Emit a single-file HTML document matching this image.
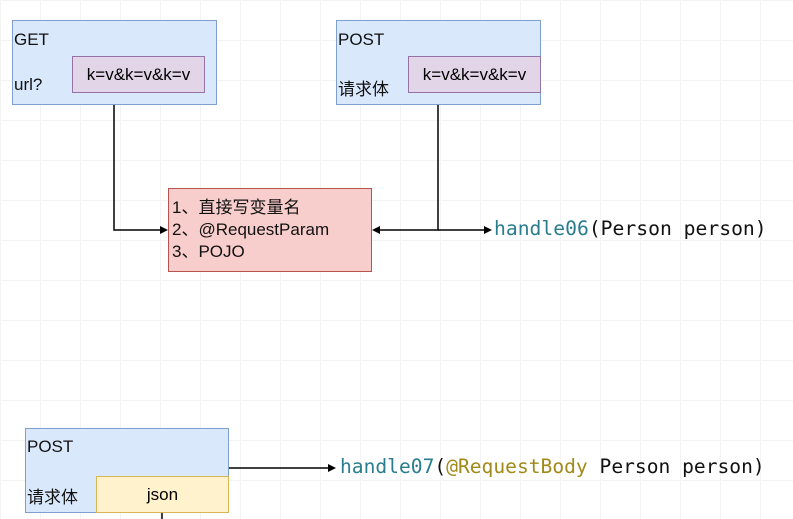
<!DOCTYPE html>
<html><head><meta charset="utf-8"><style>
body{margin:0;width:793px;height:519px;overflow:hidden;background:#fff;
background-image:linear-gradient(#f3f3f3 1px,transparent 1px),linear-gradient(90deg,#f3f3f3 1px,transparent 1px);background-size:40px 40px;
font-family:"Liberation Sans","Noto Sans CJK SC",sans-serif;position:relative}
.b{position:absolute;box-sizing:border-box;border:1px solid #7f9fd0;background:#dae8fc}
.i{position:absolute;box-sizing:border-box;border:1px solid #9673a6;background:#e1d5e7;font-size:17px;display:flex;align-items:center;justify-content:center}
.t{position:absolute;font-size:17px;color:#111}
.m{position:absolute;font-family:"DejaVu Sans Mono","Liberation Mono",monospace;color:#111;white-space:nowrap}
</style></head><body>
<div class="b" style="left:12px;top:20px;width:205px;height:85px"></div>
<div class="t" style="left:14px;top:30px">GET</div>
<div class="t" style="left:14px;top:75px">url?</div>
<div class="i" style="left:72px;top:56px;width:133px;height:37px">k=v&amp;k=v&amp;k=v</div>
<div class="b" style="left:336px;top:20px;width:205px;height:85px"></div>
<div class="t" style="left:338px;top:30px">POST</div>
<div class="t" style="left:338px;top:75px">请求体</div>
<div class="i" style="left:408px;top:56px;width:133px;height:37px">k=v&amp;k=v&amp;k=v</div>
<div style="position:absolute;left:168px;top:188px;width:204px;height:84px;box-sizing:border-box;border:1px solid #b85450;background:#f8cecc;font-size:17px;line-height:22px;padding:8px 0 0 3px;color:#111">1、直接写变量名<br>2、@RequestParam<br>3、POJO</div>
<div class="b" style="left:25px;top:428px;width:204px;height:85px"></div>
<div class="t" style="left:27px;top:437px">POST</div>
<div class="t" style="left:27px;top:483px">请求体</div>
<div style="position:absolute;left:96px;top:476px;width:133px;height:37px;box-sizing:border-box;border:1px solid #d6b656;background:#fff2cc;font-size:17px;display:flex;align-items:center;justify-content:center">json</div>
<svg width="793" height="519" style="position:absolute;left:0;top:0">
<g stroke="#000" stroke-width="1.5" fill="none">
<path d="M114 105V230H162"/><path d="M438 105V230H378"/><path d="M438 230H486"/><path d="M229 468H330"/><path d="M162 513V519"/>
</g>
<g fill="#000"><path d="M168 230l-8-4v8z"/><path d="M372 230l8-4v8z"/><path d="M492 230l-8-4v8z"/><path d="M336 468l-8-4v8z"/></g>
</svg>
<div class="m" style="left:494px;top:217px;font-size:19.7px"><span style="color:#2a7d8f">handle06</span>(Person person)</div>
<div class="m" style="left:340px;top:455px;font-size:19.6px"><span style="color:#2a7d8f">handle07</span>(<span style="color:#a08a1a">@RequestBody</span> Person person)</div>
</body></html>
